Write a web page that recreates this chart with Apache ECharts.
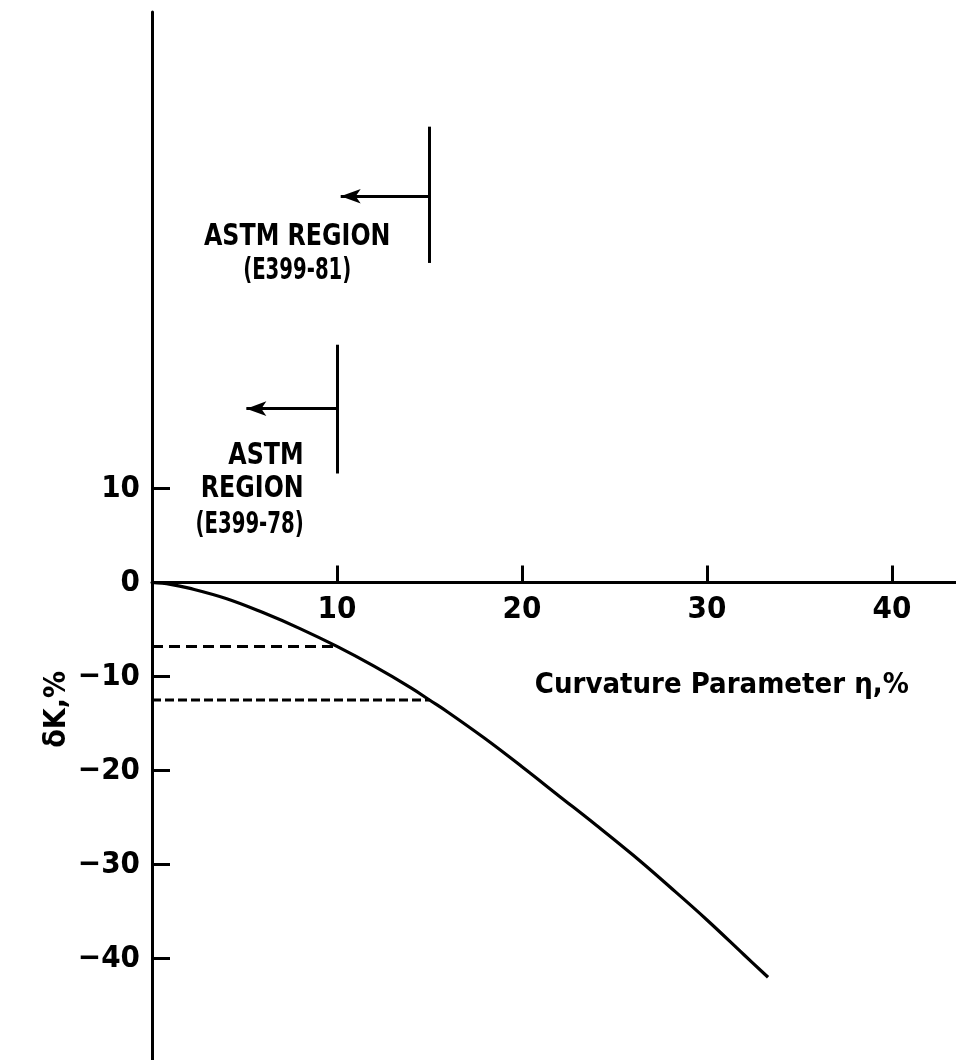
<!DOCTYPE html>
<html>
<head>
<meta charset="utf-8">
<script src="https://cdn.jsdelivr.net/npm/echarts@6/dist/echarts.min.js"></script>
<style>
html,body{margin:0;padding:0;background:#fff;}
#c{width:956px;height:1060px;}
</style>
</head>
<body>
<div id="c"></div>
<script>
// ---- data ----
const eta = [0, 1, 2, 4, 6, 8, 10, 12, 14, 15, 16, 18, 20, 22, 24, 26, 28, 30, 32, 33.3];
const deltaK = [0, -0.2, -0.6, -1.7, -3.2, -4.9, -6.8, -8.9, -11.2, -12.5, -13.8, -16.6, -19.6, -22.7, -25.8, -29.0, -32.4, -35.9, -39.6, -42.0];

const xTicks = [10, 20, 30, 40];
const yTicks = [10, 0, -10, -20, -30, -40];
const yTickMarks = [10, -10, -20, -30, -40];

// reference levels (dashed lines)
const refEta = [10, 15];
const refDK = [-6.8, -12.5];

// ASTM region boundaries
const regionEta = [15, 10];
const regionTop = [48.5, 25.3];
const regionBottom = [34.0, 11.6];
const arrowDK = [41.1, 18.5];
const arrowTipEta = [10.2, 5.1];
const regionLines = [["ASTM REGION", "(E399-81)"], ["ASTM", "REGION", "(E399-78)"]];
const regionTextEta = [7.85, 8.2];
const regionTextDK = [[36.7, 33.1], [13.4, 9.9, 6.1]];
const regionTextAlign = ["center", "right"];

const xName = "Curvature Parameter \u03B7,%";
const yName = "\u03B4K,%";

const FONT = "'DejaVu Sans Condensed', 'Liberation Sans Narrow', sans-serif";

const chart = echarts.init(document.getElementById('c'), null, {renderer: 'canvas'});

const curve = eta.map((e, i) => [e, deltaK[i]]);
const dashSeries = refEta.map((e, i) => ({
  type: 'line',
  data: [[0, refDK[i]], [e, refDK[i]]],
  symbol: 'none',
  silent: true,
  lineStyle: {color: '#000', width: 3, type: i === 0 ? [11, 6] : [9, 4]},
  z: 3
}));

const regionMark = {
  type: 'line', data: [], symbol: 'none', silent: true,
  markLine: {
    silent: true,
    animation: false,
    label: {show: false},
    lineStyle: {color: '#000', width: 3, type: 'solid'},
    data: []
  }
};
regionEta.forEach((e, i) => {
  regionMark.markLine.data.push([
    {coord: [e, regionTop[i]], symbol: 'none'},
    {coord: [e, regionBottom[i]], symbol: 'none'}
  ]);
  regionMark.markLine.data.push([
    {coord: [e, arrowDK[i]], symbol: 'none'},
    {coord: [arrowTipEta[i], arrowDK[i]], symbol: 'arrow', symbolSize: [11, 20]}
  ]);
});

const labelStyle = {color: '#000', fontFamily: FONT, fontWeight: 'bold', fontSize: 31};

chart.setOption({
  animation: false,
  backgroundColor: '#fff',
  grid: {left: 152, right: 0, top: 12, bottom: 0, containLabel: false, outerBoundsMode: 'none'},
  xAxis: {
    type: 'value', min: 0, max: 43.46,
    axisLine: {onZero: false, lineStyle: {color: '#000', width: 3}},
    axisTick: {inside: true, length: 17, lineStyle: {color: '#000', width: 3}, customValues: xTicks},
    axisLabel: Object.assign({customValues: xTicks, margin: 12}, labelStyle),
    splitLine: {show: false}
  },
  yAxis: {
    type: 'value', min: -50.8, max: 60.7,
    axisLine: {lineStyle: {color: '#000', width: 3}},
    axisTick: {inside: true, length: 18, lineStyle: {color: '#000', width: 3}, customValues: yTickMarks},
    axisLabel: Object.assign({customValues: yTicks, margin: 12,
      formatter: v => (v < 0 ? '\u2212' + Math.abs(v) : String(v))}, labelStyle),
    splitLine: {show: false}
  },
  series: [
    {
      type: 'line', data: curve, symbol: 'none', smooth: 0.4, silent: true,
      lineStyle: {color: '#000', width: 3.2}, z: 4
    },
    ...dashSeries,
    regionMark
  ]
});

// move the x axis up to the zero line of the y axis
const toPx = (x, y) => chart.convertToPixel({xAxisIndex: 0, yAxisIndex: 0}, [x, y]);
const zeroY = toPx(0, 0)[1];
const bottomY = toPx(0, -50.8)[1];
chart.setOption({xAxis: {offset: -(bottomY - zeroY)}});

// text annotations placed through the chart's own coordinate conversion
const graphics = [];
regionLines.forEach((lines, i) => {
  lines.forEach((t, j) => {
    const p = toPx(regionTextEta[i], regionTextDK[i][j]);
    graphics.push({
      type: 'text', x: p[0], y: p[1], silent: true,
      scaleX: /\d/.test(t) ? 0.73 : 0.88,
      style: {text: t, fill: '#000', font: 'bold 30px ' + FONT, align: regionTextAlign[i], verticalAlign: 'middle'}
    });
  });
});
const xn = toPx(30.8, -10.9);
graphics.push({
  type: 'text', x: xn[0], y: xn[1], silent: true,
  style: {text: xName, fill: '#000', font: 'bold 29px ' + FONT, align: 'center', verticalAlign: 'middle'}
});
const yn = toPx(-5.1, -13.5);
graphics.push({
  type: 'text', x: yn[0], y: yn[1], silent: true, rotation: Math.PI / 2,
  style: {text: yName, fill: '#000', font: 'bold 30px ' + FONT, align: 'center', verticalAlign: 'middle'}
});
chart.setOption({graphic: graphics});
</script>
</body>
</html>
